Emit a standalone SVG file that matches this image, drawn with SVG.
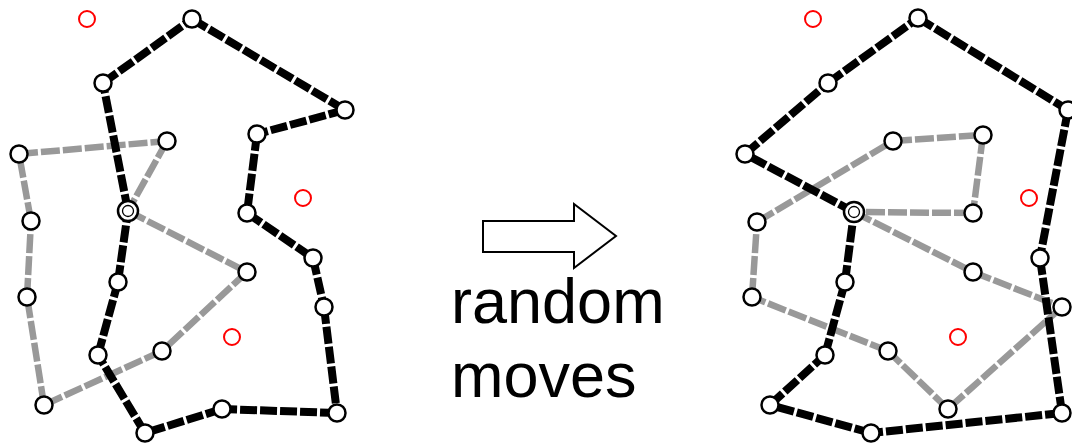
<svg xmlns="http://www.w3.org/2000/svg" width="1072" height="445" viewBox="0 0 1072 445">
  <style>
    .blk { stroke: #000; stroke-width: 8; stroke-dasharray: 17 3; fill: none; }
    .gry { stroke: #999; stroke-width: 6.5; stroke-dasharray: 19 3; fill: none; }
    .node { fill: #fff; stroke: #000; stroke-width: 2.5; }
    .target { fill: none; stroke: #f00; stroke-width: 2; }
    .label { font-family: "Liberation Sans", Arial, sans-serif; font-size: 63px; fill: #000; }
  </style>
  <rect width="1072" height="445" fill="#fff"/>

  <!-- connectors: gray loops drawn first, black loops on top -->
  <g id="connectors">
    <g id="left-gray">
      <line class="gry" x1="19" y1="154" x2="167" y2="141"/>
      <line class="gry" x1="167" y1="141" x2="128" y2="211"/>
      <line class="gry" x1="128" y1="211" x2="247" y2="272"/>
      <line class="gry" x1="247" y1="272" x2="162" y2="351"/>
      <line class="gry" x1="162" y1="351" x2="44" y2="405"/>
      <line class="gry" x1="44" y1="405" x2="27" y2="297"/>
      <line class="gry" x1="27" y1="297" x2="31" y2="221"/>
      <line class="gry" x1="31" y1="221" x2="19" y2="154"/>
    </g>
    <g id="left-black">
      <line class="blk" x1="192" y1="19" x2="345" y2="110"/>
      <line class="blk" x1="345" y1="110" x2="257" y2="134"/>
      <line class="blk" x1="257" y1="134" x2="247" y2="213"/>
      <line class="blk" x1="247" y1="213" x2="313" y2="258"/>
      <line class="blk" x1="313" y1="258" x2="324" y2="307"/>
      <line class="blk" x1="324" y1="307" x2="337" y2="413"/>
      <line class="blk" x1="337" y1="413" x2="222" y2="409"/>
      <line class="blk" x1="222" y1="409" x2="145" y2="433"/>
      <line class="blk" x1="145" y1="433" x2="98" y2="355"/>
      <line class="blk" x1="98" y1="355" x2="118" y2="282"/>
      <line class="blk" x1="118" y1="282" x2="128" y2="211"/>
      <line class="blk" x1="128" y1="211" x2="103" y2="83"/>
      <line class="blk" x1="103" y1="83" x2="192" y2="19"/>
    </g>
    <g id="right-gray">
      <line class="gry" x1="757" y1="222" x2="893" y2="141"/>
      <line class="gry" x1="893" y1="141" x2="983" y2="135"/>
      <line class="gry" x1="983" y1="135" x2="973" y2="213"/>
      <line class="gry" x1="973" y1="213" x2="854" y2="212"/>
      <line class="gry" x1="854" y1="212" x2="973" y2="272"/>
      <line class="gry" x1="973" y1="272" x2="1062" y2="307"/>
      <line class="gry" x1="1062" y1="307" x2="948" y2="409"/>
      <line class="gry" x1="948" y1="409" x2="888" y2="351"/>
      <line class="gry" x1="888" y1="351" x2="752" y2="297"/>
      <line class="gry" x1="752" y1="297" x2="757" y2="222"/>
    </g>
    <g id="right-black">
      <line class="blk" x1="918" y1="18" x2="1068" y2="110"/>
      <line class="blk" x1="1068" y1="110" x2="1040" y2="258"/>
      <line class="blk" x1="1040" y1="258" x2="1062" y2="413"/>
      <line class="blk" x1="1062" y1="413" x2="871" y2="433"/>
      <line class="blk" x1="871" y1="433" x2="770" y2="405"/>
      <line class="blk" x1="770" y1="405" x2="825" y2="355"/>
      <line class="blk" x1="825" y1="355" x2="845" y2="282"/>
      <line class="blk" x1="845" y1="282" x2="854" y2="212"/>
      <line class="blk" x1="854" y1="212" x2="745" y2="154"/>
      <line class="blk" x1="745" y1="154" x2="828" y2="83"/>
      <line class="blk" x1="828" y1="83" x2="918" y2="18"/>
    </g>
  </g>

  <!-- left panel nodes -->
  <g id="left-nodes">
    <g id="L-black-1"><circle class="node" cx="192" cy="19" r="8.5"/></g>
    <g id="L-black-2"><circle class="node" cx="345" cy="110" r="8.5"/></g>
    <g id="L-black-3"><circle class="node" cx="257" cy="134" r="8.5"/></g>
    <g id="L-black-4"><circle class="node" cx="247" cy="213" r="8.5"/></g>
    <g id="L-black-5"><circle class="node" cx="313" cy="258" r="8.5"/></g>
    <g id="L-black-6"><circle class="node" cx="324" cy="307" r="8.5"/></g>
    <g id="L-black-7"><circle class="node" cx="337" cy="413" r="8.5"/></g>
    <g id="L-black-8"><circle class="node" cx="222" cy="409" r="8.5"/></g>
    <g id="L-black-9"><circle class="node" cx="145" cy="433" r="8.5"/></g>
    <g id="L-black-10"><circle class="node" cx="98" cy="355" r="8.5"/></g>
    <g id="L-black-11"><circle class="node" cx="118" cy="282" r="8.5"/></g>
    <g id="L-black-12"><circle class="node" cx="103" cy="83" r="8.5"/></g>
    <g id="L-gray-1"><circle class="node" cx="19" cy="154" r="8.5"/></g>
    <g id="L-gray-2"><circle class="node" cx="167" cy="141" r="8.5"/></g>
    <g id="L-gray-3"><circle class="node" cx="247" cy="272" r="8.5"/></g>
    <g id="L-gray-4"><circle class="node" cx="162" cy="351" r="8.5"/></g>
    <g id="L-gray-5"><circle class="node" cx="44" cy="405" r="8.5"/></g>
    <g id="L-gray-6"><circle class="node" cx="27" cy="297" r="8.5"/></g>
    <g id="L-gray-7"><circle class="node" cx="31" cy="221" r="8.5"/></g>
    <g id="L-shared">
      <circle class="node" cx="128" cy="211" r="10" stroke-width="3"/>
      <circle cx="128" cy="211" r="5.5" fill="#fff" stroke="#000" stroke-width="1.3"/>
    </g>
    <g id="L-target-1"><circle class="target" cx="87" cy="19" r="8"/></g>
    <g id="L-target-2"><circle class="target" cx="303" cy="198" r="8"/></g>
    <g id="L-target-3"><circle class="target" cx="232" cy="337" r="8"/></g>
  </g>

  <!-- transition arrow and caption -->
  <g id="arrow">
    <polygon points="483,221 574,221 574,204 616,236 574,268 574,252 483,252" fill="#fff" stroke="#000" stroke-width="2"/>
  </g>
  <g id="caption">
    <text class="label" x="451" y="323">random</text>
    <text class="label" x="451" y="397">moves</text>
  </g>

  <!-- right panel nodes -->
  <g id="right-nodes">
    <g id="R-black-1"><circle class="node" cx="918" cy="18" r="8.5"/></g>
    <g id="R-black-2"><circle class="node" cx="1068" cy="110" r="8.5"/></g>
    <g id="R-black-3"><circle class="node" cx="1040" cy="258" r="8.5"/></g>
    <g id="R-black-4"><circle class="node" cx="1062" cy="413" r="8.5"/></g>
    <g id="R-black-5"><circle class="node" cx="871" cy="433" r="8.5"/></g>
    <g id="R-black-6"><circle class="node" cx="770" cy="405" r="8.5"/></g>
    <g id="R-black-7"><circle class="node" cx="825" cy="355" r="8.5"/></g>
    <g id="R-black-8"><circle class="node" cx="845" cy="282" r="8.5"/></g>
    <g id="R-black-9"><circle class="node" cx="745" cy="154" r="8.5"/></g>
    <g id="R-black-10"><circle class="node" cx="828" cy="83" r="8.5"/></g>
    <g id="R-gray-1"><circle class="node" cx="757" cy="222" r="8.5"/></g>
    <g id="R-gray-2"><circle class="node" cx="893" cy="141" r="8.5"/></g>
    <g id="R-gray-3"><circle class="node" cx="983" cy="135" r="8.5"/></g>
    <g id="R-gray-4"><circle class="node" cx="973" cy="213" r="8.5"/></g>
    <g id="R-gray-5"><circle class="node" cx="973" cy="272" r="8.5"/></g>
    <g id="R-gray-6"><circle class="node" cx="1062" cy="307" r="8.5"/></g>
    <g id="R-gray-7"><circle class="node" cx="948" cy="409" r="8.5"/></g>
    <g id="R-gray-8"><circle class="node" cx="888" cy="351" r="8.5"/></g>
    <g id="R-gray-9"><circle class="node" cx="752" cy="297" r="8.5"/></g>
    <g id="R-shared">
      <circle class="node" cx="854" cy="212" r="10" stroke-width="3"/>
      <circle cx="854" cy="212" r="5.5" fill="#fff" stroke="#000" stroke-width="1.3"/>
    </g>
    <g id="R-target-1"><circle class="target" cx="813" cy="19" r="8"/></g>
    <g id="R-target-2"><circle class="target" cx="1029" cy="198" r="8"/></g>
    <g id="R-target-3"><circle class="target" cx="958" cy="337" r="8"/></g>
  </g>
</svg>
